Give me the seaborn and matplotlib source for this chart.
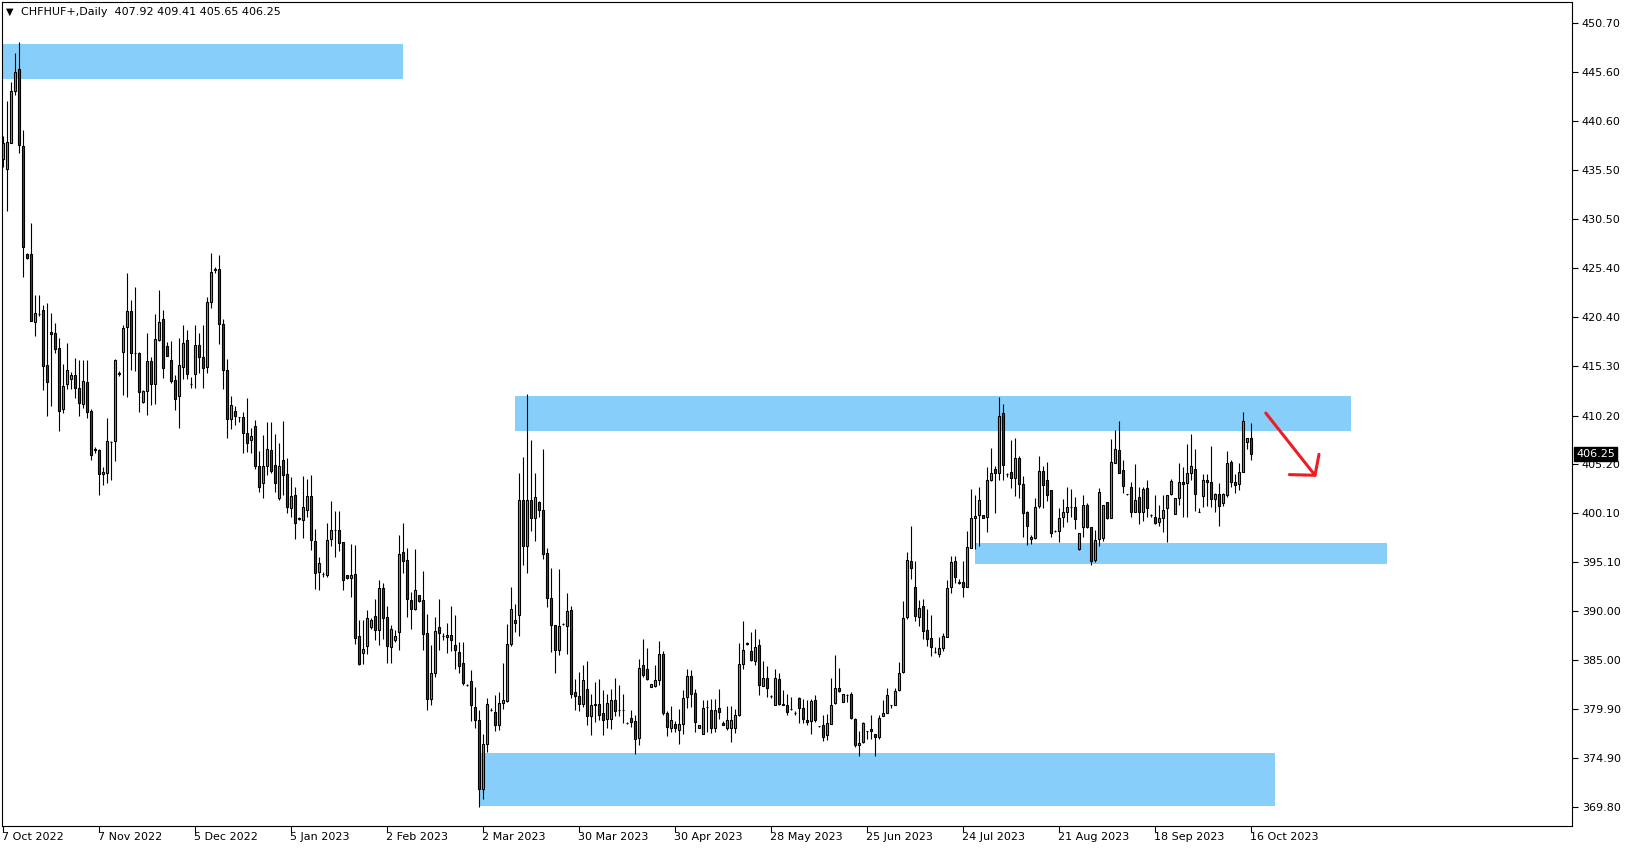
import numpy as np
import pandas as pd
import matplotlib
matplotlib.use("Agg")
import matplotlib.pyplot as plt
from matplotlib.patches import Rectangle
import seaborn as sns

# ---------------- data ----------------
symbol_title = "CHFHUF+,Daily  407.92 409.41 405.65 406.25"
last_price = 406.25

opens = [
436.64,435.60,438.29,443.65,445.92,438.01,426.83,426.87,419.88,420.70,
421.09,415.41,418.80,418.75,417.13,410.84,413.42,414.00,414.38,413.00,
411.39,413.69,410.67,406.80,406.64,404.16,404.30,407.50,407.60,414.50,
416.80,419.37,420.98,416.70,416.68,411.56,412.76,415.82,413.45,417.99,
420.12,417.37,415.93,413.86,412.21,415.24,417.99,413.50,414.48,417.48,
416.27,415.24,421.95,425.20,425.28,419.64,414.90,409.80,410.63,410.10,
410.08,408.36,407.70,409.10,404.99,403.20,405.02,406.64,405.09,401.65,
405.60,404.13,400.62,401.99,399.60,399.41,400.51,401.89,397.25,394.08,
393.90,393.80,397.42,398.40,398.38,397.18,393.74,393.46,393.84,387.51,
385.72,386.41,388.40,389.51,388.13,392.46,389.44,386.34,387.10,387.89,
396.08,395.35,391.16,390.30,391.67,391.16,387.79,381.01,383.66,388.41,
387.44,387.37,387.54,386.58,385.82,384.69,382.40,382.80,380.10,378.85,
371.73,376.37,379.80,379.64,378.26,380.57,380.78,386.69,389.10,389.68,
401.48,396.77,401.48,399.59,401.31,400.45,395.98,391.34,388.58,386.07,
388.70,388.48,390.13,381.64,381.29,380.50,382.05,379.23,380.40,380.42,
379.57,378.95,378.95,380.84,379.80,379.80,378.50,379.05,378.70,376.95,
384.45,384.10,382.22,382.28,382.90,385.65,379.57,378.02,378.43,377.81,
378.43,381.18,383.31,381.63,378.02,377.40,380.10,379.87,378.02,380.08,
378.53,378.02,378.02,378.02,379.29,384.55,386.62,385.90,384.90,386.58,
382.32,383.18,381.25,380.39,383.07,380.50,380.39,379.98,379.50,381.11,
380.08,378.84,378.71,380.91,378.15,378.33,377.23,378.36,380.60,382.15,
380.67,381.42,381.53,378.95,376.26,376.54,377.67,377.84,377.40,377.05,
379.22,379.57,380.39,380.39,381.87,383.77,389.38,395.19,392.47,389.38,
390.58,388.07,387.21,385.83,385.66,386.18,387.38,392.47,395.19,393.06,
393.02,392.47,396.50,399.59,399.94,399.90,399.77,403.55,404.65,404.31,
410.50,404.13,404.41,403.79,405.79,403.14,400.28,397.43,397.53,400.87,
404.51,403.55,402.52,398.32,398.32,399.70,400.28,400.80,400.73,396.43,
398.67,400.94,398.70,395.29,397.43,397.53,401.24,399.59,405.27,406.65,
404.58,402.07,402.79,400.21,401.76,400.28,402.69,399.90,399.77,399.25,
399.59,400.63,402.07,400.00,401.66,403.31,403.21,404.24,404.65,400.21,
401.93,403.55,403.31,401.55,402.11,401.14,402.00,405.37,403.31,403.14,
404.34,407.44,407.92]

highs = [
439.04,442.66,444.55,447.58,448.71,439.66,427.00,430.07,422.64,422.60,
421.60,421.84,420.74,419.78,418.16,415.48,417.72,414.70,416.10,415.93,
415.93,415.93,410.90,407.00,406.80,404.90,409.94,407.60,416.00,414.80,
419.50,424.87,422.12,423.50,416.80,412.80,418.75,416.27,420.64,423.15,
421.09,417.80,417.90,414.40,418.16,419.54,419.02,414.20,419.54,418.68,
419.54,422.46,426.94,425.50,426.73,420.20,416.00,412.20,411.18,410.10,
410.60,411.97,408.88,409.70,406.53,408.19,409.56,409.56,408.29,407.39,
409.63,405.78,403.89,402.85,399.70,403.96,403.68,404.06,398.55,395.63,
394.10,399.07,401.37,400.38,400.38,397.20,393.80,396.94,396.83,389.16,
389.10,390.13,389.30,391.23,393.29,392.88,390.54,388.58,388.06,397.87,
399.14,396.49,392.02,396.39,391.70,394.15,389.78,386.52,389.44,391.23,
387.79,388.82,390.54,389.61,386.86,386.86,382.50,383.94,382.22,379.81,
377.34,381.02,380.00,381.36,381.64,384.63,388.69,392.47,390.72,404.30,
405.89,412.42,407.68,404.24,401.40,406.71,396.57,394.43,388.60,394.33,
388.80,391.92,390.55,383.08,383.77,384.46,384.87,381.46,382.67,383.07,
381.87,381.53,382.04,383.18,382.39,381.46,378.60,379.81,379.29,385.07,
387.20,386.27,382.56,384.45,386.93,385.90,379.70,380.22,378.70,379.98,
381.94,384.04,383.93,382.04,378.30,380.84,380.84,381.01,381.01,382.04,
378.67,380.22,380.22,379.98,386.75,389.03,386.85,387.89,388.23,387.20,
384.86,384.35,381.40,384.10,383.66,381.87,381.53,381.18,379.74,381.18,
381.01,380.84,381.01,381.36,378.20,379.29,379.40,383.18,385.48,384.21,
381.46,381.50,381.70,379.00,377.67,378.60,377.70,379.29,377.40,379.29,
380.84,382.15,380.40,382.15,384.79,391.10,396.16,398.80,395.19,391.16,
391.27,390.30,389.62,386.28,387.38,387.80,393.23,395.71,395.71,393.30,
395.19,398.32,402.62,401.99,402.86,399.90,404.86,406.82,404.99,412.15,
411.39,404.30,407.68,407.85,406.03,403.96,400.38,397.87,401.66,406.03,
404.99,405.44,402.52,398.40,400.63,401.59,402.79,402.62,401.83,398.05,
402.00,401.14,398.70,398.39,402.69,400.94,401.24,407.75,408.71,409.64,
405.61,402.10,403.38,405.20,402.79,402.79,403.55,400.00,402.00,400.97,
402.00,402.00,403.65,401.66,405.27,404.93,407.27,408.30,406.71,400.63,
404.17,404.17,407.06,402.17,403.28,402.17,406.54,405.61,404.17,405.34,
410.60,407.85,409.41]

lows = [
435.78,431.34,438.29,443.28,437.26,424.53,426.35,419.90,418.44,420.50,
412.83,410.18,411.20,416.60,408.64,410.42,412.90,412.90,411.97,410.15,
411.00,409.90,405.60,406.30,402.00,403.00,403.27,403.60,405.50,414.30,
412.30,412.10,414.90,414.80,410.60,411.50,410.25,411.28,411.35,417.90,
414.10,416.30,413.60,410.77,408.88,414.00,414.00,413.00,413.00,414.55,
413.00,414.55,421.30,424.90,417.55,412.90,407.84,408.84,409.22,409.57,
406.37,406.47,406.30,404.70,402.34,401.65,404.06,404.30,402.34,401.48,
402.00,400.10,399.76,397.42,399.40,397.52,399.76,396.30,392.36,392.26,
393.60,393.57,396.73,395.63,396.25,392.26,393.30,391.50,386.69,384.50,
384.60,385.65,388.20,387.10,386.52,387.20,384.69,384.69,386.86,386.07,
393.98,389.44,388.23,390.13,391.00,386.07,379.88,380.32,383.25,385.99,
387.03,385.72,385.93,384.10,383.66,382.38,382.30,378.70,377.99,369.84,
370.70,375.51,379.70,377.68,377.82,379.98,380.67,386.42,387.90,387.48,
394.78,393.98,398.32,397.29,399.70,395.36,390.48,385.83,383.66,385.49,
388.60,385.66,381.12,379.88,379.74,380.16,378.33,377.30,378.60,378.77,
377.23,378.02,377.91,379.19,379.19,378.50,378.40,378.08,375.26,376.19,
383.25,382.90,382.22,382.20,382.39,379.29,377.16,377.57,377.57,376.30,
377.33,380.08,380.15,377.57,378.00,377.40,377.57,377.47,377.57,378.95,
378.26,377.81,376.54,377.47,379.19,384.10,386.55,384.90,384.45,381.42,
382.30,381.18,381.10,380.32,380.32,380.30,379.29,379.80,379.29,378.50,
378.50,378.26,377.33,378.60,378.10,376.64,376.78,378.36,380.50,381.70,
380.67,380.67,378.95,376.02,375.09,376.47,376.88,376.81,375.09,376.81,
379.22,379.57,380.08,380.39,381.77,383.60,389.20,393.30,389.03,388.48,
387.11,386.42,385.39,385.73,385.32,385.94,387.38,391.92,392.95,392.81,
391.44,392.47,396.50,396.40,396.74,399.60,398.22,403.45,400.18,403.55,
403.55,403.90,402.69,401.90,401.66,397.70,396.84,396.94,397.43,400.63,
400.63,401.41,397.70,398.20,397.19,398.73,399.25,399.77,398.46,396.33,
397.70,398.56,394.78,395.12,396.77,397.26,399.52,399.59,405.27,404.24,
402.24,402.00,399.77,400.21,399.01,399.35,399.70,399.77,399.01,398.80,
398.22,397.19,402.00,400.00,400.97,399.77,399.77,403.55,400.39,400.21,
400.73,400.87,400.80,400.28,398.84,400.87,401.76,402.79,402.17,402.52,
404.34,406.71,405.65]

closes = [
438.29,438.39,443.65,445.62,438.05,427.62,426.42,419.99,420.74,420.70,
415.34,413.69,418.60,417.10,410.70,413.24,414.90,414.40,413.00,411.46,
413.79,410.53,406.09,406.60,404.16,404.40,407.57,407.50,415.93,414.60,
419.20,420.98,416.62,416.60,412.66,412.76,415.82,413.45,418.06,419.82,
415.07,416.34,413.76,411.87,415.41,417.65,414.48,413.50,417.48,416.20,
415.07,421.95,425.04,425.30,419.64,414.90,409.80,411.28,410.15,410.10,
408.36,407.40,408.10,405.00,402.85,404.99,406.71,404.50,403.27,404.99,
404.06,400.79,401.89,399.07,399.50,400.79,401.89,397.35,393.98,395.01,
393.90,397.35,398.38,398.40,397.07,393.22,393.40,393.74,387.31,384.62,
386.17,389.37,389.10,388.13,392.46,389.27,386.41,388.23,387.44,395.97,
395.22,391.23,390.30,392.19,391.09,387.72,381.01,383.66,387.99,387.79,
387.44,387.54,387.10,386.07,384.35,382.63,382.40,380.40,378.85,371.73,
376.37,380.50,379.80,378.26,380.57,380.91,386.69,390.30,388.76,401.48,
396.77,401.48,399.59,401.76,400.45,395.88,391.34,388.58,386.07,388.48,
388.70,390.03,381.53,381.29,380.50,382.91,379.23,380.33,380.50,379.29,
378.77,380.60,380.84,379.74,379.80,379.80,378.50,378.60,376.88,384.21,
383.42,383.07,382.56,382.90,385.59,379.53,378.09,378.77,378.02,378.36,
381.11,383.31,381.46,378.60,378.26,380.08,380.10,378.02,379.81,379.64,
378.33,378.84,378.84,379.36,384.62,386.07,386.79,385.03,386.34,382.45,
383.18,382.15,381.25,383.18,380.42,380.32,379.64,379.98,379.50,380.08,
378.95,378.60,380.74,378.77,378.15,377.05,378.53,380.32,382.15,381.80,
381.46,381.42,379.02,376.26,376.47,378.53,377.67,377.64,377.05,379.05,
379.57,381.42,380.39,381.77,383.69,389.27,395.30,394.43,389.51,390.37,
387.99,387.11,386.35,385.83,386.18,387.45,392.37,395.05,393.50,392.88,
392.47,396.60,399.59,399.83,401.49,399.60,403.55,404.24,404.30,410.15,
405.10,404.13,403.72,405.79,403.10,400.18,398.80,397.70,400.80,404.51,
403.03,402.00,398.05,398.32,399.59,400.21,400.73,400.80,399.49,398.05,
400.94,398.67,395.23,397.36,402.28,400.94,399.59,405.37,406.71,404.31,
402.96,402.07,400.21,401.49,400.21,402.59,400.70,399.90,399.15,399.59,
400.45,402.00,403.45,401.66,403.31,403.10,404.24,405.00,402.07,400.21,
403.55,403.31,401.55,402.11,400.90,402.11,405.27,403.31,403.03,404.34,
409.64,407.85,406.25]

date_labels = ["7 Oct 2022", "7 Nov 2022", "5 Dec 2022", "5 Jan 2023", "2 Feb 2023",
               "2 Mar 2023", "30 Mar 2023", "30 Apr 2023", "28 May 2023", "25 Jun 2023",
               "24 Jul 2023", "21 Aug 2023", "18 Sep 2023", "16 Oct 2023"]
date_label_bars = [0, 24, 48, 72, 96, 120, 144, 168, 192, 216, 240, 264, 288, 312]

price_ticks = [450.70, 445.60, 440.60, 435.50, 430.50, 425.40, 420.40, 415.30, 410.20,
               405.20, 400.10, 395.10, 390.00, 385.00, 379.90, 374.90, 369.80]

# supply / demand zones: (start bar, end bar, low price, high price)
zone_start = [-0.5, 128.0, 243.0, 119.25]
zone_end = [100.0, 337.0, 346.0, 318.0]
zone_low = [444.93, 408.60, 394.88, 369.93]
zone_high = [448.54, 412.21, 397.04, 375.37]

# hand-drawn red arrow (bar, price)
arrow_x = [315.7, 328.0, 329.0]
arrow_y = [410.46, 404.04, 406.2]
arrow_base_x = [321.6, 328.0]
arrow_base_y = [404.11, 404.04]

# ---------------- figure ----------------
sns.set_theme(style="white")
plt.rcParams['font.family'] = ['DejaVu Sans']

W, H = 1629, 850
fig = plt.figure(figsize=(W / 100, H / 100), dpi=100)
fig.patch.set_facecolor("white")
left_px, right_px, top_px, bottom_px = 2, 1572, 2, 826
ax = fig.add_axes([left_px / W, (H - bottom_px) / H, (right_px - left_px) / W, (bottom_px - top_px) / H])
ax.set_facecolor("white")

df = pd.DataFrame({"open": opens, "high": highs, "low": lows, "close": closes})
df["bar"] = np.arange(len(df))
df["bull"] = df["close"] >= df["open"]

px_per_bar = 4.0
x0 = -0.25
x1 = x0 + (right_px - left_px) / px_per_bar
px_per_price = 9.697
y_top = 369.80 + (807.3 - top_px) / px_per_price
y_bot = 369.80 - (bottom_px - 807.3) / px_per_price
ax.set_xlim(x0, x1)
ax.set_ylim(y_bot, y_top)

# zones (behind candles)
for xs, xe, lo, hi in zip(zone_start, zone_end, zone_low, zone_high):
    ax.add_patch(Rectangle((xs, lo), xe - xs, hi - lo, facecolor="#87CEFA", edgecolor="none", zorder=1))

# wicks
ax.vlines(df["bar"], df["low"], df["high"], colors="black", linewidth=0.8, zorder=2)

# bodies
body_bottom = np.minimum(df["open"], df["close"])
body_height = np.abs(df["close"] - df["open"])
colors = np.where(df["bull"], "#22dd22", "#dd0000")
ax.bar(df["bar"], body_height, bottom=body_bottom, width=0.66, color=colors,
       edgecolor="black", linewidth=0.8, zorder=3)

# arrow
ax.plot(arrow_x, arrow_y, color="#ee1c24", linewidth=2.2, solid_capstyle="round", zorder=5)
ax.plot(arrow_base_x, arrow_base_y, color="#ee1c24", linewidth=2.2, solid_capstyle="round", zorder=5)

# axes styling
for s in ax.spines.values():
    s.set_visible(True)
    s.set_color("black")
    s.set_linewidth(0.8)

ax.yaxis.tick_right()
ax.set_yticks(price_ticks)
ax.set_yticklabels([f"{v:.2f}" for v in price_ticks])
ax.tick_params(axis="y", direction="out", length=4, width=0.8, color="black",
               labelsize=8, labelcolor="black", pad=3, right=True, left=False)
ax.set_xticks(date_label_bars)
ax.set_xticklabels([])
ax.tick_params(axis="x", direction="out", length=4, width=0.8, color="black", bottom=True)
for b, lab in zip(date_label_bars, date_labels):
    ax.annotate(lab, xy=(b, 0), xycoords=("data", "axes fraction"), xytext=(-1, -6),
                textcoords="offset pixels", ha="left", va="top", fontsize=8, color="black")

# current price label
ax.annotate(f"{last_price:.2f}", xy=(1.0, last_price), xycoords=("axes fraction", "data"),
            xytext=(4, 0), textcoords="offset pixels", ha="left", va="center", fontsize=8,
            color="white", bbox=dict(boxstyle="square,pad=0.2", facecolor="black", edgecolor="black"),
            zorder=10, annotation_clip=False)

# header
fig.text(6 / W, 1 - 12 / H, "\u25BC", fontsize=7, color="black", ha="left", va="center")
fig.text(21 / W, 1 - 12 / H, symbol_title, fontsize=8, color="black", ha="left", va="center")

fig.savefig("out.png", dpi=100, facecolor="white")
